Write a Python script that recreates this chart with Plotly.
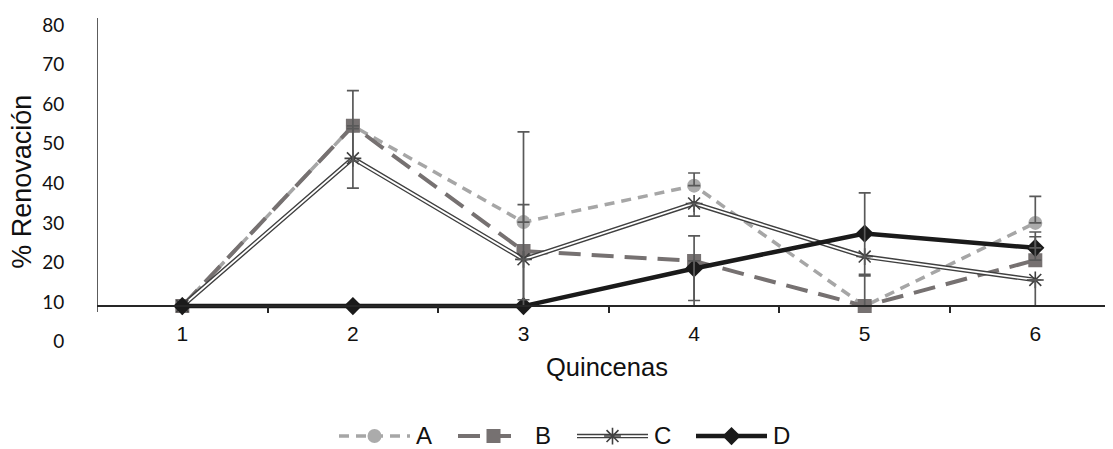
import plotly.graph_objects as go

# ---------------- data (in axis-label units) ----------------
quincenas = [1, 2, 3, 4, 5, 6]
series_names = ["A", "B", "C", "D"]

A = [9.0, 54.5, 30.2, 39.4, 9.0, 30.0]
B = [9.0, 54.5, 22.9, 20.4, 9.0, 20.6]
C = [9.0, 46.3, 20.8, 34.9, 21.5, 15.6]
D = [9.0, 9.0, 9.0, 18.5, 27.3, 23.7]

A_err_plus = [0, 0, 4.4, 3.2, 0, 6.7]
A_err_minus = [0, 0, 0, 0, 0, 0]
B_err_plus = [0, 8.9, 30.1, 0, 7.6, 5.9]
B_err_minus = [0, 8.9, 13.9, 11.4, 0, 0]
C_err_plus = [0, 7.5, 0, 0, 0, 0]
C_err_minus = [0, 7.5, 10.2, 3.2, 0, 6.6]
D_err_plus = [0, 0, 0, 8.2, 10.3, 4.0]
D_err_minus = [0, 0, 0, 8.1, 10.3, 0]

y_tick_vals = [0, 10, 20, 30, 40, 50, 60, 70, 80]
y_tick_text = ["0", "10", "20", "30", "40", "50", "60", "70", "80"]
x_tick_text = ["1", "2", "3", "4", "5", "6"]

# ---------------- styling / layout constants ----------------
PAGE_W, PAGE_H = 1113, 449
OFF = 8                      # default body margin of the html page
W, H = PAGE_W - OFF, PAGE_H - OFF

def fx(px):                  # page pixel x -> paper fraction
    return (px - OFF) / W

def fy(py):                  # page pixel y -> paper fraction
    return 1 - (py - OFF) / H

PX_PER_UNIT = 3.9875         # px per label unit
Y0_PX = 344                  # page row of label "0"
BASE = 9.0                   # value where the x axis line sits

def ypx_to_val(py):
    return (Y0_PX - py) / PX_PER_UNIT

PLOT_TOP_PX, PLOT_BOT_PX = 12, 352
X_LEFT_PX = 97
CAT_SPACING = 170.6

yr = [ypx_to_val(PLOT_BOT_PX), ypx_to_val(PLOT_TOP_PX)]
xr = [0.5, 0.5 + (PAGE_W - X_LEFT_PX) / CAT_SPACING]

COL_A = "#a6a6a6"
COL_B = "#767171"
COL_C = "#404040"
COL_D = "#1a1a1a"
COL_ERR = "#595959"
AXIS_COL = "#262626"
TXT = "#111111"

fig = go.Figure()

# A
fig.add_trace(go.Scatter(x=quincenas, y=A, mode="lines+markers", name="A",
                         line=dict(color=COL_A, width=3.5, dash="10px,7px"),
                         marker=dict(symbol="circle", size=14, color="#ababab"),
                         showlegend=False))
# B
fig.add_trace(go.Scatter(x=quincenas, y=B, mode="lines+markers", name="B",
                         line=dict(color=COL_B, width=4, dash="22px,11px"),
                         marker=dict(symbol="square", size=14, color=COL_B),
                         showlegend=False))
# C (double line)
fig.add_trace(go.Scatter(x=quincenas, y=C, mode="lines", name="C",
                         line=dict(color=COL_C, width=4.6), showlegend=False))
fig.add_trace(go.Scatter(x=quincenas, y=C, mode="lines+markers", name="C",
                         line=dict(color="white", width=1.8),
                         marker=dict(symbol="asterisk-open", size=14, color=COL_C,
                                     line=dict(color=COL_C, width=1.6)),
                         showlegend=False))
# D
fig.add_trace(go.Scatter(x=quincenas, y=D, mode="lines+markers", name="D",
                         line=dict(color=COL_D, width=4.5),
                         marker=dict(symbol="diamond", size=14, color=COL_D),
                         showlegend=False))

# error bars (drawn on top)
for vals, ep, em in [(A, A_err_plus, A_err_minus), (B, B_err_plus, B_err_minus),
                     (C, C_err_plus, C_err_minus), (D, D_err_plus, D_err_minus)]:
    fig.add_trace(go.Scatter(x=quincenas, y=vals, mode="markers",
                             marker=dict(size=1, color="rgba(0,0,0,0)"),
                             error_y=dict(type="data", symmetric=False, array=ep,
                                          arrayminus=em, color=COL_ERR,
                                          thickness=1.7, width=6),
                             showlegend=False, hoverinfo="skip"))

# ---------------- custom legend on a small pixel-unit axis at the bottom ----------------
LEG_TOP_PX = 422
LEG_Y = 439
LEG_X0 = 339
LEG_STEP = 119
LEG_LEN = 71
legend_styles = [
    dict(line=dict(color=COL_A, width=3.5, dash="10px,7px"),
         marker=dict(symbol="circle", size=14, color="#ababab"), trim=0),
    dict(line=dict(color=COL_B, width=4, dash="22px,11px"),
         marker=dict(symbol="square", size=14, color=COL_B), trim=18),
    None,
    dict(line=dict(color=COL_D, width=4.5),
         marker=dict(symbol="diamond", size=14, color=COL_D), trim=0),
]
for i, name in enumerate(series_names):
    s = LEG_X0 + LEG_STEP * i
    e = s + LEG_LEN
    m = (s + e) / 2
    if name == "C":
        fig.add_trace(go.Scatter(x=[s, e], y=[LEG_Y, LEG_Y], mode="lines",
                                 line=dict(color=COL_C, width=4.6),
                                 xaxis="x2", yaxis="y2", showlegend=False, hoverinfo="skip"))
        fig.add_trace(go.Scatter(x=[s, e], y=[LEG_Y, LEG_Y], mode="lines",
                                 line=dict(color="white", width=1.8),
                                 xaxis="x2", yaxis="y2", showlegend=False, hoverinfo="skip"))
        fig.add_trace(go.Scatter(x=[m], y=[LEG_Y], mode="markers",
                                 marker=dict(symbol="asterisk-open", size=14, color=COL_C,
                                             line=dict(color=COL_C, width=1.6)),
                                 xaxis="x2", yaxis="y2", showlegend=False, hoverinfo="skip"))
    else:
        st = legend_styles[i]
        fig.add_trace(go.Scatter(x=[s, e - st["trim"]], y=[LEG_Y, LEG_Y], mode="lines",
                                 line=st["line"], xaxis="x2", yaxis="y2",
                                 showlegend=False, hoverinfo="skip"))
        fig.add_trace(go.Scatter(x=[m], y=[LEG_Y], mode="markers",
                                 marker=st["marker"], xaxis="x2", yaxis="y2",
                                 showlegend=False, hoverinfo="skip"))
    fig.add_annotation(x=fx(e + 4), y=fy(LEG_Y - 1), xref="paper", yref="paper",
                       text=name, showarrow=False, xanchor="left", yanchor="middle",
                       font=dict(family="Liberation Sans, Arial", size=24, color=TXT))

# axis titles
fig.add_annotation(x=fx(607), y=fy(369), xref="paper", yref="paper",
                   text="Quincenas", showarrow=False, xanchor="center", yanchor="middle",
                   font=dict(family="Liberation Sans, Arial", size=25.5, color=TXT))
fig.add_annotation(x=fx(22), y=fy(183), xref="paper", yref="paper",
                   text="% Renovación", showarrow=False, textangle=-90,
                   xanchor="center", yanchor="middle",
                   font=dict(family="Liberation Sans, Arial", size=27, color=TXT))

# y axis line (stops just below the x axis line)
fig.add_shape(type="line", xref="x", yref="y", x0=0.5, x1=0.5,
              y0=ypx_to_val(314), y1=ypx_to_val(18),
              line=dict(color=AXIS_COL, width=1.5))

fig.update_layout(
    width=W, height=H,
    margin=dict(l=0, r=0, t=0, b=0),
    paper_bgcolor="white", plot_bgcolor="rgba(0,0,0,0)",
    xaxis=dict(domain=[fx(X_LEFT_PX), 1], range=xr, anchor="free",
               position=fy(Y0_PX - BASE * PX_PER_UNIT),
               showline=True, linecolor=AXIS_COL, linewidth=1.5,
               showgrid=False, zeroline=False,
               tickmode="array", tickvals=quincenas, ticktext=x_tick_text,
               ticks="outside", ticklen=9, tickcolor="rgba(0,0,0,0)",
               tickfont=dict(family="Liberation Sans, Arial", size=21, color=TXT),
               minor=dict(tickvals=[1.5, 2.5, 3.5, 4.5, 5.5], ticks="outside",
                          ticklen=6, tickwidth=1.5, tickcolor=AXIS_COL)),
    yaxis=dict(domain=[fy(PLOT_BOT_PX), fy(PLOT_TOP_PX)], range=yr,
               anchor="x", showline=False, showgrid=False, zeroline=False,
               tickmode="array", tickvals=y_tick_vals, ticktext=y_tick_text,
               ticks="outside", ticklen=28, tickcolor="rgba(0,0,0,0)",
               tickfont=dict(family="Lato, Carlito, Calibri", size=19, color=TXT)),
    xaxis2=dict(domain=[0, 1], range=[OFF, PAGE_W], visible=False, anchor="y2"),
    yaxis2=dict(domain=[0, fy(LEG_TOP_PX)], range=[PAGE_H, LEG_TOP_PX],
                visible=False, anchor="x2"),
)

fig.write_html("out.html")
